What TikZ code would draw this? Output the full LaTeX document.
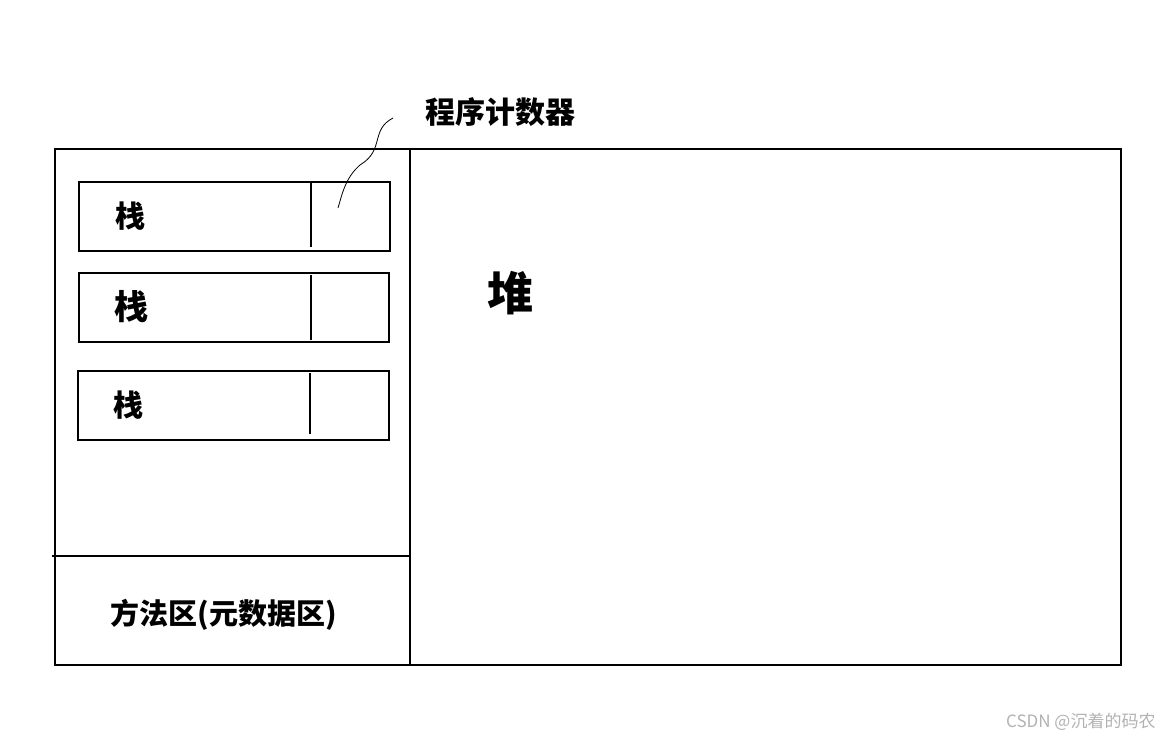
\documentclass[tikz,border=0pt]{standalone}
\usepackage{fontspec}
\newfontfamily\cjk{Noto Sans CJK SC}
\begin{document}
\begin{tikzpicture}[x=1pt,y=-1pt,line width=2.2pt,
  lbl/.style={font=\cjk\bfseries\fontsize{30}{32}\selectfont},
  stk/.style={draw,line width=2.2pt}]
\useasboundingbox (0,0) rectangle (1167,744);
\node[draw,minimum width=1066pt,minimum height=516pt,anchor=north west,inner sep=0,line width=2.2pt] (outer) at (54,148) {};
\draw (410,148) -- (410,664);
\draw (52,556) -- (410,556);
\draw (79,182) rectangle (390,251); \draw (311,182) -- (311,247);
\draw (79,273) rectangle (389,342); \draw (311,275) -- (311,340);
\draw (78,371) rectangle (389,440); \draw (310,373) -- (310,434);
\node[lbl] (s1) at (130,216) {栈};
\node[font=\cjk\bfseries\fontsize{34}{36}\selectfont] (s2) at (131,307) {栈};
\node[lbl] (s3) at (128,405) {栈};
\node[font=\cjk\bfseries\fontsize{46}{48}\selectfont] (heap) at (510,293) {堆};
\node[lbl,font=\cjk\bfseries\fontsize{29}{31}\selectfont] (ma) at (224,615) {方法区(元数据区)};
\node[lbl] (pc) at (500,112) {程序计数器};
\draw[line width=0.8pt] (393,118) .. controls (370,130) and (385,150) .. (360,165) .. controls (345,178) and (342,195) .. (338,208);
\node[font=\cjk\fontsize{17}{19}\selectfont,text=gray!60,anchor=east] (wm) at (1160,722) {CSDN @沉着的码农};
\end{tikzpicture}
\end{document}
